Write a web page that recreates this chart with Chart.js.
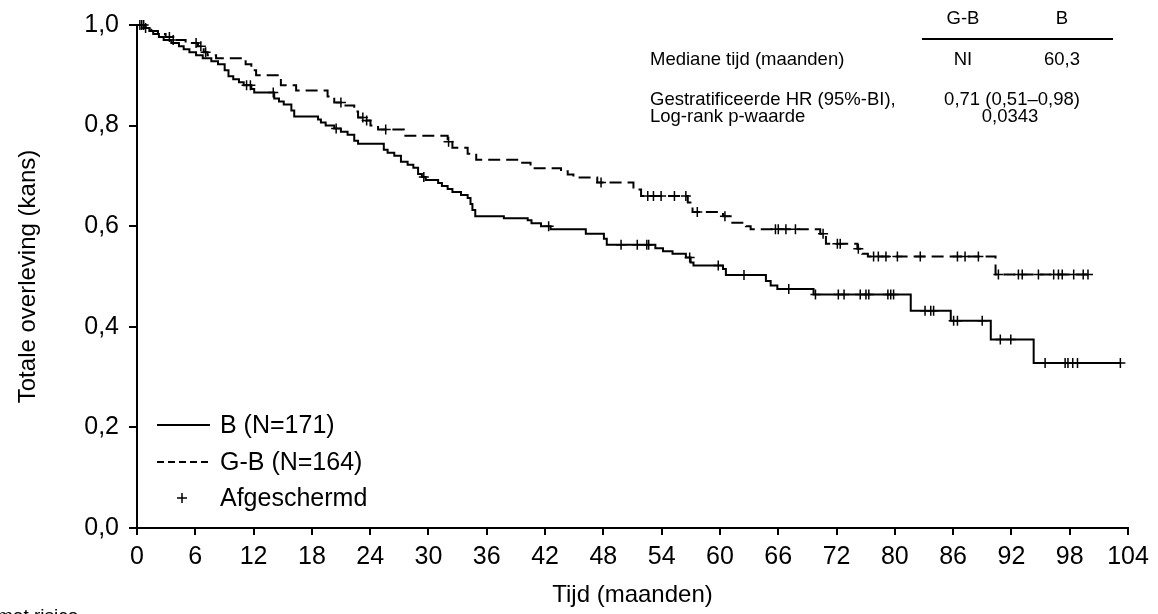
<!DOCTYPE html>
<html>
<head>
<meta charset="utf-8">
<script src="https://cdn.jsdelivr.net/npm/chart.js@4.4.1/dist/chart.umd.min.js"></script>
<style>
    html, body { margin: 0; padding: 0; background: #fff; }
    #wrap { width: 1158px; height: 614px; position: relative; }
</style>
</head>
<body>
<div id="wrap"><canvas id="kmChart" width="1158" height="614"></canvas></div>
<script>
// axis labels (the printed x labels are evenly spaced on the axis)
const xTickLabels = ['0', '6', '12', '18', '24', '30', '36', '42', '48', '54', '60', '66', '72', '80', '86', '92', '98', '104'];
const yTickLabels = ['0,0', '0,2', '0,4', '0,6', '0,8', '1,0'];
const xMax = 104;

const seriesNames = ['B (N=171)', 'G-B (N=164)'];
const censorLabel = 'Afgeschermd';

// summary table
const tableHeaders = ['G-B', 'B'];
const medianLabel = 'Mediane tijd (maanden)';
const medianValues = ['NI', '60,3'];
const hrLabels = ['Gestratificeerde HR (95%-BI),', 'Log-rank p-waarde'];
const hrValues = ['0,71 (0,51\u20130,98)', '0,0343'];

// B: step times (months) and survival after each step
const bTimes = [0.7, 1.3, 1.7, 2.3, 2.8, 3.6, 4.4, 4.9, 5.5, 6.2,
    6.9, 7.8, 8.5, 9.2, 9.6, 10.1, 10.7, 11.2, 12.0, 12.3,
    14.4, 14.9, 15.4, 16.2, 16.5, 19.0, 19.3, 19.8, 20.7, 21.4,
    22.1, 22.8, 23.2, 25.9, 26.3, 27.0, 27.7, 28.4, 29.0, 29.5,
    29.9, 30.3, 31.6, 32.0, 32.6, 33.1, 34.0, 34.7, 35.0, 35.2,
    35.5, 38.5, 41.0, 41.4, 42.4, 43.4, 47.1, 49.0, 49.3, 54.4,
    55.2, 56.2, 57.6, 58.1, 58.4, 61.5, 61.8, 66.0, 66.5, 67.2,
    71.0, 81.2, 85.4, 89.6, 94.1];
const bSurv = [0.994, 0.988, 0.982, 0.976, 0.970, 0.964, 0.958, 0.952, 0.946, 0.940,
    0.934, 0.928, 0.922, 0.910, 0.898, 0.892, 0.886, 0.880, 0.873, 0.866,
    0.854, 0.848, 0.842, 0.830, 0.818, 0.812, 0.806, 0.800, 0.794, 0.788,
    0.782, 0.770, 0.764, 0.752, 0.746, 0.740, 0.728, 0.722, 0.716, 0.704,
    0.698, 0.692, 0.686, 0.680, 0.674, 0.668, 0.662, 0.656, 0.644, 0.632,
    0.620, 0.616, 0.612, 0.606, 0.600, 0.594, 0.585, 0.575, 0.563, 0.556,
    0.550, 0.545, 0.538, 0.528, 0.522, 0.515, 0.503, 0.491, 0.482, 0.475,
    0.464, 0.432, 0.412, 0.375, 0.328];
const bCensor = [0.5, 0.9, 11.5, 11.9, 14.3, 20.9, 30.1, 43.2, 50.8, 52.5,
    53.5, 53.7, 58.0, 61.0, 63.7, 68.4, 71.2, 73.6, 74.2, 75.9,
    76.5, 76.8, 78.8, 79.1, 79.4, 82.7, 83.3, 83.6, 85.7, 86.1,
    88.7, 90.6, 91.7, 95.3, 97.4, 97.7, 98.2, 98.7, 103.2];
const bEnd = 103.2;

// G-B
const gbTimes = [0.9, 1.5, 2.2, 3.0, 3.8, 5.1, 6.4, 7.0, 7.4, 8.3,
    11.4, 12.0, 12.5, 15.1, 16.7, 20.0, 20.7, 21.7, 22.8, 23.2,
    24.0, 24.5, 25.3, 28.0, 32.6, 33.1, 34.7, 35.6, 40.3, 41.3,
    44.5, 45.2, 45.8, 48.3, 52.1, 52.9, 57.8, 58.3, 61.5, 62.3,
    63.9, 64.4, 71.7, 72.3, 75.6, 76.1, 76.7, 90.1];
const gbSurv = [0.994, 0.988, 0.982, 0.976, 0.970, 0.964, 0.958, 0.946, 0.940, 0.934,
    0.922, 0.910, 0.900, 0.880, 0.870, 0.858, 0.846, 0.840, 0.828, 0.816,
    0.810, 0.800, 0.792, 0.780, 0.768, 0.756, 0.744, 0.732, 0.726, 0.715,
    0.709, 0.703, 0.697, 0.687, 0.673, 0.660, 0.647, 0.628, 0.620, 0.607,
    0.600, 0.594, 0.585, 0.565, 0.555, 0.545, 0.540, 0.504];
const gbCensor = [0.3, 0.7, 3.4, 3.8, 6.2, 6.7, 7.2, 21.4, 23.7, 24.1,
    26.1, 32.7, 48.7, 53.6, 54.2, 55.0, 56.4, 57.6, 58.8, 61.7,
    67.0, 67.3, 68.1, 69.1, 72.0, 73.5, 73.8, 75.7, 77.3, 77.8,
    78.6, 79.8, 82.2, 86.1, 86.9, 88.3, 90.4, 92.5, 92.9, 94.6,
    96.2, 96.7, 97.1, 98.3, 99.3, 99.8];
const gbEnd = 100.1;

const FONT = '"Liberation Sans", Arial, sans-serif';

function kmPoints(times, surv, end) {
    const pts = [{ x: 0, y: 1 }];
    times.forEach((t, i) => pts.push({ x: t, y: surv[i] }));
    pts.push({ x: end, y: surv[surv.length - 1] });
    return pts;
}

function survAt(times, surv, t) {
    let s = 1;
    for (let i = 0; i < times.length; i++) {
        if (times[i] <= t) s = surv[i];
        else break;
    }
    return s;
}

function censorPoints(times, surv, cens) {
    return cens.map(t => ({ x: t, y: survAt(times, surv, t) }));
}

// legend, summary table and the cut-off footer text
const overlay = {
    id: 'overlay',
    afterDraw(chart) {
        const ctx = chart.ctx;
        ctx.save();
        ctx.fillStyle = '#000';
        ctx.strokeStyle = '#000';

        // legend
        ctx.font = '25px ' + FONT;
        ctx.textBaseline = 'middle';
        ctx.textAlign = 'left';
        ctx.lineWidth = 2;
        ctx.beginPath();
        ctx.moveTo(157, 425); ctx.lineTo(210, 425);
        ctx.stroke();
        ctx.fillText(seriesNames[0], 220, 426);
        ctx.setLineDash([7, 4]);
        ctx.beginPath();
        ctx.moveTo(157, 462); ctx.lineTo(210, 462);
        ctx.stroke();
        ctx.setLineDash([]);
        ctx.fillText(seriesNames[1], 220, 463);
        ctx.lineWidth = 1.5;
        ctx.beginPath();
        ctx.moveTo(177, 498); ctx.lineTo(187, 498);
        ctx.moveTo(182, 493); ctx.lineTo(182, 503);
        ctx.stroke();
        ctx.fillText(censorLabel, 220, 499);

        // summary table
        ctx.font = '18.5px ' + FONT;
        ctx.textAlign = 'center';
        ctx.fillText(tableHeaders[0], 963, 19);
        ctx.fillText(tableHeaders[1], 1062, 19);
        ctx.lineWidth = 2;
        ctx.beginPath();
        ctx.moveTo(922, 39); ctx.lineTo(1113, 39);
        ctx.stroke();
        ctx.fillText(medianValues[0], 963, 60);
        ctx.fillText(medianValues[1], 1062, 60);
        ctx.fillText(hrValues[0], 1012, 100);
        ctx.fillText(hrValues[1], 1010, 117);
        ctx.textAlign = 'left';
        ctx.fillText(medianLabel, 650, 60);
        ctx.fillText(hrLabels[0], 650, 100);
        ctx.fillText(hrLabels[1], 650, 117);

        // footer text, cut by the bottom edge
        ctx.font = '19px ' + FONT;
        ctx.textBaseline = 'alphabetic';
        ctx.fillText('met risico', -3, 622);
        ctx.restore();
    }
};

new Chart(document.getElementById('kmChart'), {
    type: 'line',
    data: {
        datasets: [
            {
                label: seriesNames[0],
                data: kmPoints(bTimes, bSurv, bEnd),
                borderColor: '#000',
                borderWidth: 2,
                stepped: true,
                pointRadius: 0,
                fill: false,
                clip: false
            },
            {
                label: seriesNames[1],
                data: kmPoints(gbTimes, gbSurv, gbEnd),
                borderColor: '#000',
                borderWidth: 2,
                borderDash: [12, 6],
                stepped: true,
                pointRadius: 0,
                fill: false,
                clip: false
            },
            {
                label: censorLabel + ' B',
                data: censorPoints(bTimes, bSurv, bCensor),
                showLine: false,
                pointStyle: 'cross',
                pointRadius: 5,
                borderColor: '#000',
                borderWidth: 1.5,
                clip: false
            },
            {
                label: censorLabel + ' G-B',
                data: censorPoints(gbTimes, gbSurv, gbCensor),
                showLine: false,
                pointStyle: 'cross',
                pointRadius: 5,
                borderColor: '#000',
                borderWidth: 1.5,
                clip: false
            }
        ]
    },
    options: {
        responsive: false,
        animation: false,
        layout: { padding: { left: 0, right: 30, top: 22, bottom: 0 } },
        plugins: {
            legend: { display: false },
            tooltip: { enabled: false }
        },
        scales: {
            x: {
                type: 'linear',
                min: 0,
                max: xMax,
                afterFit: scale => { scale.height = 86; },
                afterBuildTicks: scale => {
                    const n = xTickLabels.length - 1;
                    scale.ticks = xTickLabels.map((l, i) => ({ value: i * xMax / n }));
                },
                ticks: {
                    color: '#000',
                    font: { family: FONT, size: 25 },
                    padding: 7,
                    maxRotation: 0,
                    autoSkip: false,
                    callback: (v, i) => xTickLabels[i]
                },
                grid: { display: true, drawOnChartArea: false, drawTicks: true, tickLength: 7, color: '#000', lineWidth: 2 },
                border: { display: true, color: '#000', width: 2 },
                title: {
                    display: true,
                    text: 'Tijd (maanden)',
                    color: '#000',
                    font: { family: FONT, size: 24 },
                    padding: { top: 0, bottom: 4 }
                }
            },
            y: {
                min: 0,
                max: 1,
                afterFit: scale => { scale.width = 137; },
                ticks: {
                    stepSize: 0.2,
                    color: '#000',
                    font: { family: FONT, size: 25 },
                    padding: 10,
                    callback: (v, i) => yTickLabels[i]
                },
                grid: { display: true, drawOnChartArea: false, drawTicks: true, tickLength: 8, color: '#000', lineWidth: 2 },
                border: { display: true, color: '#000', width: 2 },
                title: {
                    display: true,
                    text: 'Totale overleving (kans)',
                    color: '#000',
                    font: { family: FONT, size: 24 },
                    padding: { top: 14, bottom: 0 }
                }
            }
        }
    },
    plugins: [overlay]
});
</script>
</body>
</html>
